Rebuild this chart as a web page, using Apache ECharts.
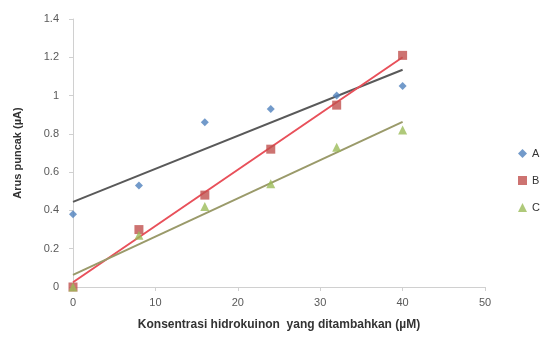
<!DOCTYPE html>
<html><head><meta charset="utf-8">
<script src="https://cdn.jsdelivr.net/npm/echarts@6/dist/echarts.min.js"></script>
<style>html,body{margin:0;padding:0;background:#fff}#c{width:542px;height:338px}</style>
</head><body><div id="c"></div>
<script>
const xValues = [0, 8, 16, 24, 32, 40];
const seriesA = [0.38, 0.53, 0.86, 0.93, 1.00, 1.05];
const seriesB = [0.00, 0.30, 0.48, 0.72, 0.95, 1.21];
const seriesC = [0.00, 0.27, 0.42, 0.54, 0.73, 0.82];
const trendX = [0, 40];
const trendA = [0.445, 1.135];
const trendB = [0.025, 1.20];
const trendC = [0.063, 0.863];
const xTicks = [0, 10, 20, 30, 40, 50];
const yTicks = [0, 0.2, 0.4, 0.6, 0.8, 1, 1.2, 1.4];

const pts = (xs, ys) => xs.map((x, i) => [x, ys[i]]);
const font = 'Liberation Sans';
const chart = echarts.init(document.getElementById('c'));
chart.setOption({
  animation: false,
  textStyle: {fontFamily: font},
  grid: {left: 73, right: 57, top: 19, bottom: 51},
  xAxis: {
    type: 'value', min: 0, max: 50, interval: 10,
    name: 'Konsentrasi hidrokuinon  yang ditambahkan (µM)',
    nameLocation: 'middle', nameGap: 32,
    nameTextStyle: {fontSize: 12, fontWeight: 'bold', color: '#333', fontFamily: font},
    axisLine: {lineStyle: {color: '#d0d0d0'}},
    axisTick: {show: true, length: 4, lineStyle: {color: '#d0d0d0'}},
    axisLabel: {color: '#595959', fontSize: 11, margin: 10},
    splitLine: {show: false}
  },
  yAxis: {
    type: 'value', min: 0, max: 1.4, interval: 0.2,
    name: 'Arus puncak (µA)', nameLocation: 'middle', nameGap: 50,
    nameTextStyle: {fontSize: 11, fontWeight: 'bold', color: '#333', fontFamily: font},
    axisLine: {show: true, lineStyle: {color: '#d0d0d0'}},
    axisTick: {show: true, length: 4, lineStyle: {color: '#d0d0d0'}},
    axisLabel: {color: '#595959', fontSize: 11, margin: 14,
      formatter: v => String(Math.round(v * 10) / 10)},
    splitLine: {show: false}
  },
  legend: {
    orient: 'vertical', left: 513, top: 143, itemGap: 16,
    itemWidth: 9, itemHeight: 9,
    textStyle: {fontSize: 11, color: '#333'},
    data: ['A', 'B', 'C']
  },
  series: [
    {name: 'trendA', type: 'line', data: pts(trendX, trendA), symbol: 'none',
      lineStyle: {color: '#595959', width: 2}, z: 2},
    {name: 'trendB', type: 'line', data: pts(trendX, trendB), symbol: 'none',
      lineStyle: {color: '#e8505a', width: 2}, z: 2},
    {name: 'trendC', type: 'line', data: pts(trendX, trendC), symbol: 'none',
      lineStyle: {color: '#9a9a6a', width: 2}, z: 2},
    {name: 'A', type: 'scatter', data: pts(xValues, seriesA), symbol: 'diamond',
      symbolSize: 8, itemStyle: {color: '#4f81bd'}, z: 3},
    {name: 'B', type: 'scatter', data: pts(xValues, seriesB), symbol: 'rect',
      symbolSize: 9, itemStyle: {color: '#c0504d'}, z: 3},
    {name: 'C', type: 'scatter', data: pts(xValues, seriesC), symbol: 'triangle',
      symbolSize: 9, itemStyle: {color: '#9bbb59'}, z: 3}
  ]
});
</script></body></html>
